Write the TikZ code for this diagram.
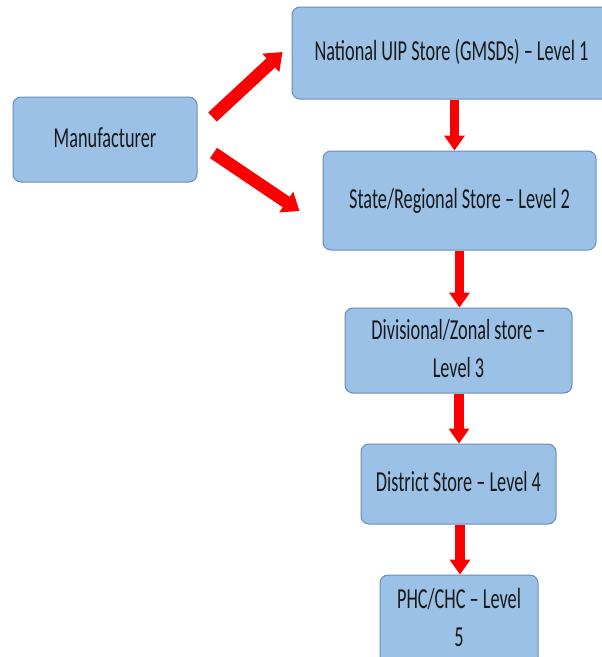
\documentclass[tikz,border=0pt]{standalone}
\usepackage{fontspec}
\setmainfont{Carlito}
\usetikzlibrary{arrows.meta}
\definecolor{boxfill}{RGB}{155,194,230}
\definecolor{boxline}{RGB}{105,140,188}
\definecolor{arrred}{RGB}{250,0,0}
\newcommand{\cz}[1]{\scalebox{0.63}[1]{\begin{tabular}{@{}c@{}}#1\end{tabular}}}
\begin{document}
\begin{tikzpicture}[x=1pt,y=-1pt,
  stbox/.style={draw=boxline, fill=boxfill, line width=1pt, rounded corners=8pt,
    inner sep=0pt, font=\fontsize{29pt}{38pt}\selectfont, text=black!90},
  vflow/.style={draw=arrred, line width=9.5pt, -{Triangle[width=20pt,length=15pt]}},
  dflow/.style={draw=arrred, line width=12.5pt, -{Triangle[width=24pt,length=16pt]}}]
\useasboundingbox (0,0) rectangle (602,657);
\clip (0,0) rectangle (602,657);
\node[stbox, minimum width=184pt, minimum height=85pt] (man) at (105,139.5) {\cz{Manufacturer}};
\node[stbox, minimum width=319pt, minimum height=92pt] (l1) at (451.5,53) {\cz{National UIP Store (GMSDs) – Level 1}};
\node[stbox, minimum width=273pt, minimum height=99pt] (l2) at (459.5,200.5) {\cz{State/Regional Store – Level 2}};
\node[stbox, minimum width=227pt, minimum height=85pt] (l3) at (458.5,350.5) {\cz{Divisional/Zonal store –\\Level 3}};
\node[stbox, minimum width=195pt, minimum height=80pt] (l4) at (458.5,484) {\cz{District Store – Level 4}};
\node[stbox, minimum width=158pt, minimum height=90pt] (l5) at (459,620) {\cz{PHC/CHC – Level\\5}};
\draw[dflow] ([shift={(15,-22.5)}]man.east) -- ([shift={(-9,-1)}]l1.west);
\draw[dflow] ([shift={(16,13.5)}]man.east) -- ([shift={(-23,10.5)}]l2.west);
\draw[vflow] ([xshift=3pt]l1.south) -- ([xshift=3pt]l1.south |- l2.north);
\draw[vflow] (l2.south) -- (l2.south |- l3.north);
\draw[vflow] ([xshift=0.5pt]l3.south) -- ([xshift=0.5pt]l3.south |- l4.north);
\draw[vflow] ([xshift=1.5pt]l4.south) -- ([xshift=1.5pt]l4.south |- l5.north);
\end{tikzpicture}
\end{document}
